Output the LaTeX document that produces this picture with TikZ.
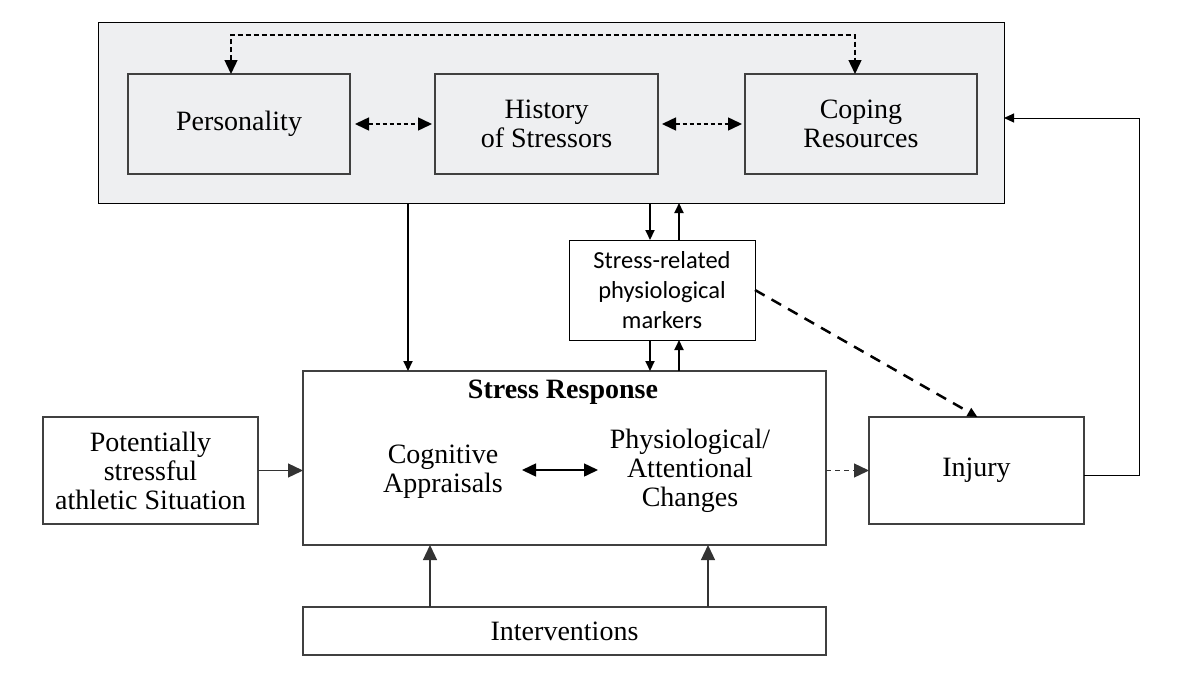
\documentclass[tikz,border=0pt]{standalone}
\usepackage{fontspec}
\setmainfont{Liberation Serif}
\newfontfamily\calibri{Carlito}
\usetikzlibrary{arrows.meta,calc}
\begin{document}
\begin{tikzpicture}[x=1pt, y=-1pt, line cap=butt, line join=miter,
    box/.style={draw=black!75, line width=1.4pt, inner sep=0pt, outer sep=0pt,
      align=center, font=\fontsize{28}{29}\selectfont},
    tip/.style={-{Triangle[length=15pt,width=14pt]}},
    dtip/.style={{Triangle[length=14pt,width=13pt]}-{Triangle[length=14pt,width=13pt]}},
    smalltip/.style={-{Triangle[length=10pt,width=9pt]}}]
  \definecolor{panelgray}{RGB}{238,239,241}
  \useasboundingbox (0,0) rectangle (1194,696);

  % top panel
  \node[draw=black, fill=panelgray, line width=1pt, minimum width=906pt, minimum height=181pt,
    inner sep=0pt, outer sep=0pt] (panel) at (551,112.5) {};
  \node[box, minimum width=222pt, minimum height=100pt] (pers) at (239,124) {Personality};
  \node[box, minimum width=223pt, minimum height=100pt] (hist) at (546.5,124) {History\\of Stressors};
  \node[box, minimum width=232pt, minimum height=100pt] (cope) at (861,124) {Coping\\Resources};

  % middle and bottom
  \node[draw=black, line width=1pt, minimum width=186pt, minimum height=100pt, inner sep=0pt,
    outer sep=0pt, align=center, font=\calibri\fontsize{24.5}{30}\selectfont] (mark) at (662,290)
    {Stress-related\\physiological\\markers};
  \node[box, minimum width=523pt, minimum height=174pt] (resp) at (564.5,458) {};
  \node[font=\fontsize{28}{29}\selectfont\bfseries] (title) at (563,392) {Stress Response};
  \node[box, draw=none, fill=none] (cogn) at (443,472) {Cognitive\\Appraisals};
  \node[box, draw=none, fill=none] (phys) at (690,471) {Physiological/\\Attentional\\Changes};
  \node[box, minimum width=215pt, minimum height=107pt] (situ) at (150.5,470.5)
    {Potentially\\stressful\\athletic Situation};
  \node[box, minimum width=215pt, minimum height=107pt] (inj) at (976.5,470.5) {Injury};
  \node[box, minimum width=523pt, minimum height=48pt] (intv) at (564.5,631) {Interventions};

  \coordinate (xa) at (408,0);
  \coordinate (xb) at (650,0);
  \coordinate (xc) at (679,0);
  \coordinate (xd) at (430,0);
  \coordinate (xe) at (708,0);
  \coordinate (xf) at (231,35);
  \coordinate (xg) at (855,35);
  \coordinate (xh) at (1139,118);
  \coordinate (xl) at (522,470);
  \coordinate (xr) at (598,470);

  % dashed links in the panel
  \draw[dtip, dash pattern=on 5pt off 3pt, line width=1.4pt]
    (pers.north -| xf) -- (xf) -- (xg) -- (cope.north -| xg);
  \draw[dtip, dash pattern=on 4pt off 3pt, line width=1.5pt] ([xshift=5pt]pers.east) -- ([xshift=-3pt]hist.west);
  \draw[dtip, dash pattern=on 4pt off 3pt, line width=1.5pt] ([xshift=4pt]hist.east) -- ([xshift=-3pt]cope.west);

  % vertical links
  \draw[smalltip, line width=2pt] (panel.south -| xa) -- (resp.north -| xa);
  \draw[smalltip, line width=2pt] (panel.south -| xb) -- (mark.north -| xb);
  \draw[smalltip, line width=2pt] (mark.north -| xc) -- (panel.south -| xc);
  \draw[smalltip, line width=2pt] (mark.south -| xb) -- (resp.north -| xb);
  \draw[smalltip, line width=2pt] (resp.north -| xc) -- (mark.south -| xc);
  \draw[tip, line width=1.3pt, draw=black!80] (intv.north -| xd) -- (resp.south -| xd);
  \draw[tip, line width=1.3pt, draw=black!80] (intv.north -| xe) -- (resp.south -| xe);

  % horizontal links
  \draw[tip, line width=1.3pt, draw=black!80] (situ.east) -- (resp.west |- situ.east);
  \draw[dtip, line width=1.5pt] (xl) -- (xr);
  \draw[tip, dash pattern=on 5pt off 4pt, line width=1.3pt, draw=black!80] (resp.east |- inj.west) -- (inj.west);
  \draw[smalltip, dash pattern=on 11pt off 8pt, line width=2.5pt] (mark.east) -- ([xshift=1pt]inj.north);
  \draw[smalltip, line width=1pt] ([yshift=-5pt]inj.east) -| (xh) -- (panel.east |- xh);
\end{tikzpicture}
\end{document}
